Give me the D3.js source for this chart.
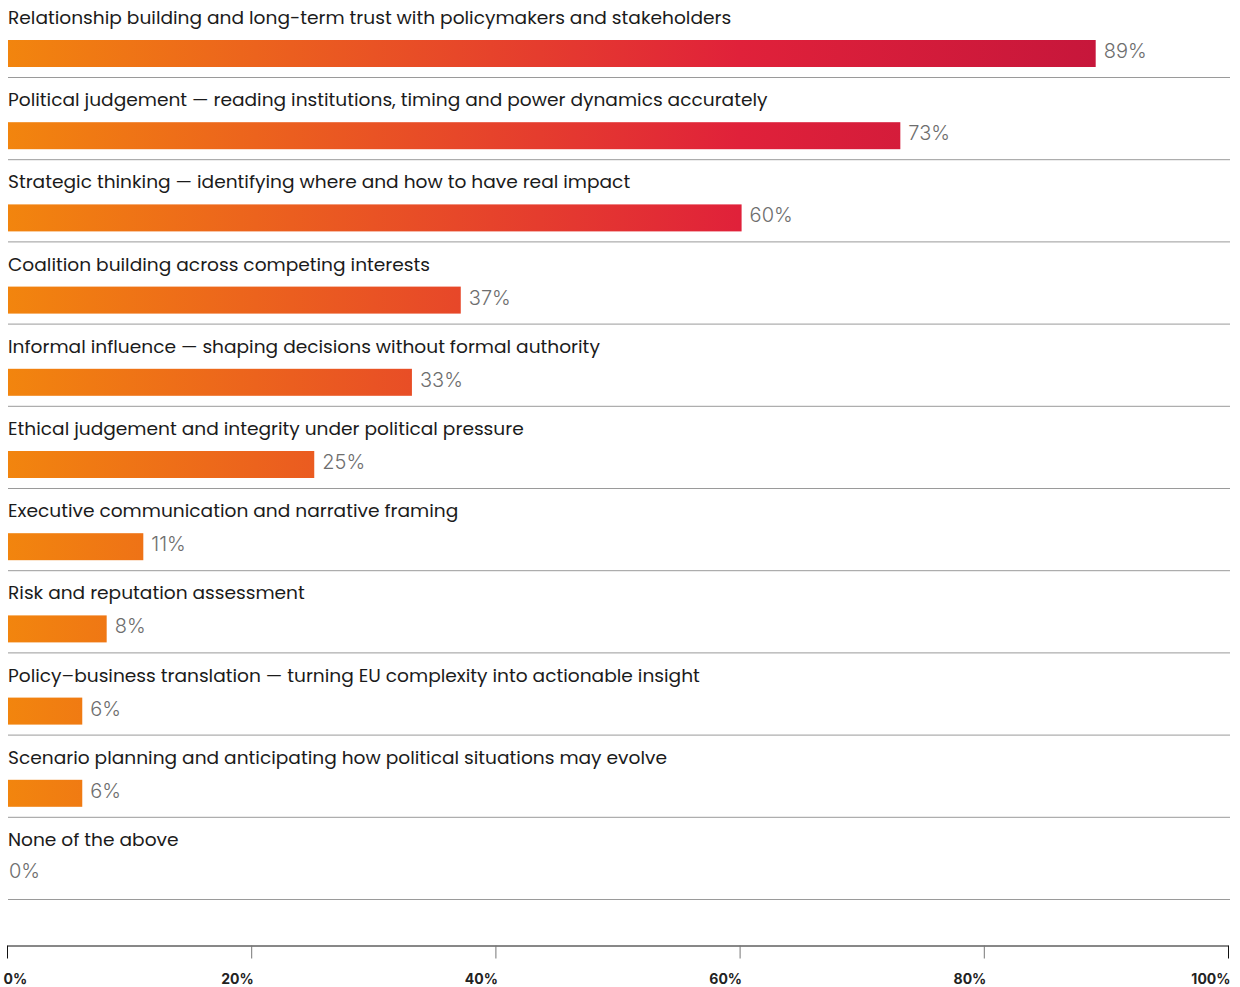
<!DOCTYPE html>
<html>
<head>
<meta charset="utf-8">
<script src="https://cdn.jsdelivr.net/npm/d3@7"></script>
<style>
  html, body { margin: 0; padding: 0; background: #fff; }
  svg { display: block; }
  .cat { font-family: Poppins, Inter, "Noto Sans", sans-serif; font-size: 18.6px; fill: #1b1b1b; }
  .val { font-family: Inter, "Noto Sans", sans-serif; font-weight: 300; font-size: 20px; fill: #6e6e6e; }
  .axis text { font-family: Inter, "Noto Sans", sans-serif; font-weight: 700; font-size: 14px; fill: #222; }
</style>
</head>
<body>
<svg id="chart" width="1240" height="987"></svg>
<script>
// Survey results: skills most valued in public affairs work
const categories = [
  "Relationship building and long-term trust with policymakers and stakeholders",
  "Political judgement \u2014 reading institutions, timing and power dynamics accurately",
  "Strategic thinking \u2014 identifying where and how to have real impact",
  "Coalition building across competing interests",
  "Informal influence \u2014 shaping decisions without formal authority",
  "Ethical judgement and integrity under political pressure",
  "Executive communication and narrative framing",
  "Risk and reputation assessment",
  "Policy\u2013business translation \u2014 turning EU complexity into actionable insight",
  "Scenario planning and anticipating how political situations may evolve",
  "None of the above"
];
const values = [89, 73, 60, 37, 33, 25, 11, 8, 6, 6, 0];
const tickValues = [0, 20, 40, 60, 80, 100];

const svg = d3.select("#chart");

const x = d3.scaleLinear().domain([0, 100]).range([7, 1228]);
const y = d3.scaleBand().domain(categories).range([-5.2, 899]).padding(0);

// Colour ramp runs across the whole scale, so longer bars reach deeper red
const defs = svg.append("defs");
const grad = defs.append("linearGradient")
  .attr("id", "barGrad")
  .attr("gradientUnits", "userSpaceOnUse")
  .attr("x1", x(0)).attr("x2", x(100))
  .attr("y1", 0).attr("y2", 0);
grad.append("stop").attr("offset", "0%").attr("stop-color", "#f2850e");
grad.append("stop").attr("offset", "60%").attr("stop-color", "#e0213a");
grad.append("stop").attr("offset", "90%").attr("stop-color", "#c6163b");
grad.append("stop").attr("offset", "100%").attr("stop-color", "#c0143b");

const rows = svg.append("g").selectAll("g.row")
  .data(categories.map((c, i) => ({ cat: c, v: values[i] })))
  .join("g")
  .attr("class", "row")
  .attr("transform", d => `translate(0,${y(d.cat) + y.bandwidth()})`);

// category label
rows.append("text")
  .attr("class", "cat")
  .attr("x", 8)
  .attr("y", -53)
  .text(d => d.cat);

// bar
rows.filter(d => d.v > 0).append("rect")
  .attr("x", x(0) + 1)
  .attr("y", -37)
  .attr("width", d => x(d.v) - x(0) + 1)
  .attr("height", 27)
  .attr("fill", "url(#barGrad)");

// value label
rows.append("text")
  .attr("class", "val")
  .attr("x", d => x(d.v) + 2 + (d.v > 0 ? 8 : 0))
  .attr("y", d => d.v > 0 ? -19 : -21)
  .text(d => d.v + "%");

// row separator
rows.append("line")
  .attr("x1", 8).attr("x2", 1230)
  .attr("y1", 0.5).attr("y2", 0.5)
  .attr("stroke", "#9a9a9a")
  .attr("stroke-width", 1);

// bottom axis
const axis = svg.append("g")
  .attr("class", "axis")
  .attr("transform", "translate(0,945.5)")
  .call(d3.axisBottom(x).tickValues(tickValues).tickSize(13).tickSizeOuter(0).tickFormat(d => d + "%"));

axis.select(".domain").attr("stroke", "#111").attr("stroke-width", 1);
axis.selectAll(".tick line")
  .attr("stroke", d => (d === 0 || d === 100) ? "#111" : "#777");
axis.selectAll(".tick text")
  .attr("y", 38)
  .attr("dy", 0)
  .attr("text-anchor", d => d === 0 ? "start" : "end")
  .attr("dx", d => d === 0 ? -4 : 2);
</script>
</body>
</html>
